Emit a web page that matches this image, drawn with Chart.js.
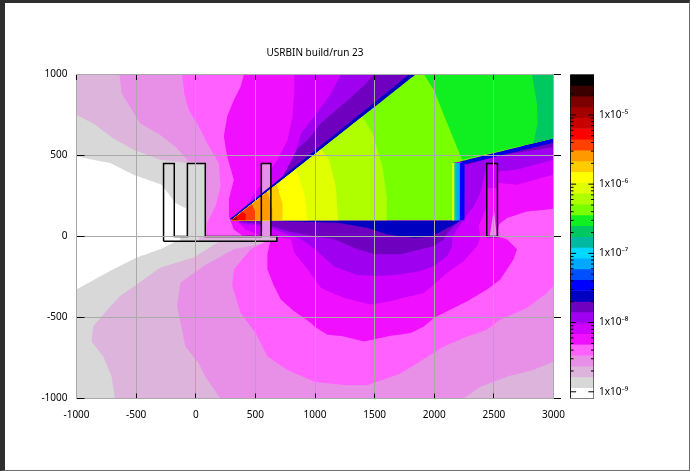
<!DOCTYPE html>
<html>
<head>
<meta charset="utf-8">
<title>USRBIN build/run 23</title>
<script src="https://cdn.jsdelivr.net/npm/chart.js@4"></script>
<style>
  html, body { margin: 0; padding: 0; background: #fff; }
  #wrap { position: relative; width: 690px; height: 471px; overflow: hidden; }
  #wrap::after { content: ''; position: absolute; inset: 0; box-sizing: border-box; pointer-events: none;
    border-style: solid; border-width: 3px 1.5px 1.5px 5px; border-color: #2e2e2e #6e6e6e #6e6e6e #2e2e2e; }
  canvas { position: absolute; left: 0; top: 0; }
</style>
</head>
<body>
<div id="wrap">
  <canvas id="myGraph" width="690" height="471"></canvas>
  <canvas id="myBar" width="690" height="471"></canvas>
</div>
<script>
// axis ticks
const xTicks = [-1000, -500, 0, 500, 1000, 1500, 2000, 2500, 3000];
const yTicks = [-1000, -500, 0, 500, 1000];
const barTicks = [1e-9, 1e-8, 1e-7, 1e-6, 1e-5];
const barTickLabels = ['1x10⁻⁹', '1x10⁻⁸', '1x10⁻⁷', '1x10⁻⁶', '1x10⁻⁵'];

// colour levels, top of the bar to the bottom
const levelEdges = [3.84e-5, 2.68e-5, 1.87e-5, 1.31e-5, 9.13e-6, 6.37e-6, 4.45e-6, 3.10e-6, 2.17e-6, 1.51e-6,
  1.06e-6, 7.38e-7, 5.15e-7, 3.60e-7, 2.51e-7, 1.75e-7, 1.22e-7, 8.55e-8, 5.97e-8, 4.17e-8,
  2.91e-8, 2.03e-8, 1.42e-8, 9.90e-9, 6.91e-9, 4.83e-9, 3.37e-9, 2.35e-9, 1.64e-9, 1.15e-9, 8.00e-10];
const levelColors = ['#000000', '#3a0000', '#7d0000', '#a50000', '#c80000', '#ff0000', '#ff4000', '#ff9900', '#ffcc00', '#ffff00',
  '#e0ff00', '#b0ff00', '#78ff00', '#10f020', '#00c860', '#00b8a0', '#00d8ff', '#00a8ff', '#0050ff', '#0000ff',
  '#0000c0', '#7000c0', '#a000f0', '#d000ff', '#f010ff', '#ff60ff', '#e890e8', '#dcb4dc', '#d8d8d8', '#ffffff'];

// contour regions, x/y in plot units
const plotBox = [[-1000,1000],[3000,1000],[3000,-1000],[-1000,-1000]];
const whiteZone = [[-1000,494],[-719,453],[-522,381],[-284,319],[-171,207],[-79,174],[-79,2],[-298,-79],[-494,-130],[-719,-213],[-1000,-327]];
const pale = [[-1000,1000],[3000,1000],[3000,-1000],[-677,-1000],[-705,-865],[-775,-741],[-874,-648],[-860,-555],[-775,-482],[-635,-368],[-494,-296],[-298,-193],[-17,-130],[208,-27],[80,-5],[80,450],[-73,453],[-298,473],[-522,535],[-691,606],[-860,699],[-1000,750]];
const pink1 = [[-640,1000],[3000,1000],[3000,-772],[2833,-824],[2610,-865],[2387,-927],[2248,-1000],[208,-1000],[81,-865],[25,-782],[-87,-679],[-115,-575],[-157,-430],[-129,-286],[67,-182],[320,-79],[685,-27],[80,-27],[80,453],[-59,463],[-171,555],[-298,627],[-466,699],[-551,801],[-621,883]];
const pink2 = [[-115,1000],[3000,1000],[3000,-306],[2945,-348],[2777,-441],[2555,-513],[2443,-575],[2276,-617],[2081,-679],[1858,-782],[1719,-845],[1440,-917],[1245,-917],[994,-896],[770,-824],[601,-741],[503,-596],[376,-472],[306,-306],[320,-203],[461,-79],[601,-27],[84,-27],[84,6],[96,84],[166,186],[208,309],[194,453],[96,576],[11,699],[-59,781],[-96,883]];
const magenta = [[404,1000],[3000,1000],[3000,172],[2777,155],[2610,114],[2541,73],[2527,0],[2610,-17],[2694,-79],[2666,-141],[2555,-265],[2443,-327],[2276,-400],[2137,-451],[1997,-503],[1914,-555],[1802,-596],[1607,-617],[1412,-648],[1245,-617],[1106,-606],[994,-555],[966,-534],[826,-462],[713,-389],[657,-306],[601,-203],[601,-110],[629,-17],[390,6],[320,43],[278,125],[278,227],[320,350],[264,494],[236,617],[264,740],[320,842],[376,924]];
const violet1 = [[826,1000],[3000,1000],[3000,381],[2889,360],[2694,319],[2527,330],[2443,186],[2373,63],[2387,-6],[2360,-58],[2248,-151],[2109,-224],[1997,-296],[1914,-348],[1802,-368],[1635,-400],[1468,-420],[1245,-379],[1106,-337],[1051,-317],[939,-203],[826,-99],[798,-17],[545,6],[419,43],[348,94],[362,125],[461,227],[573,350],[685,473],[770,596],[812,740],[826,883]];
const violet2 = [[1217,1000],[3000,1000],[3000,473],[2694,412],[2527,401],[2429,401],[2387,268],[2332,186],[2248,104],[2151,0],[2151,-58],[2109,-120],[2000,-182],[1886,-213],[1719,-234],[1504,-244],[1357,-238],[1162,-186],[1000,-79],[883,-17],[600,60],[362,84],[390,125],[517,207],[657,309],[800,432],[883,637],[994,740],[1134,883]];
const purple = [[1496,1000],[1844,1000],[300,100],[600,73],[770,32],[994,2],[1162,-17],[1357,-79],[1504,-110],[1719,-110],[1886,-79],[2000,-58],[2081,-17],[2109,22],[2192,84],[300,100],[404,104],[517,176],[657,268],[855,545],[939,596],[1050,699],[1245,822],[1412,934]];
const purpleRight = [[2220,463],[3000,606],[3000,551],[2527,498],[2276,442]];
const blueEdge = [[290,108],[1790,1000],[1844,1000],[300,100]];
const blueUnder = [[600,96],[1203,84],[1441,53],[1610,12],[1830,-9],[1984,2],[2109,53],[2192,84],[2230,100]];
const blueRight = [[2220,463],[3000,606],[3000,578],[2254,445]];
const wallBlue = [[2150,100],[2254,100],[2254,453],[2150,453]];
const wallCyan = [[2150,100],[2215,100],[2215,453],[2150,453]];
const wallTeal = [[2150,100],[2187,100],[2187,453],[2150,453]];
const wallYellow = [[2150,100],[2167,100],[2167,453],[2150,453]];
const coneMain = [[300,100],[1844,1000],[3000,1000],[3000,606],[2220,463],[2151,453],[2151,100]];
const coneGreen = [[1914,1000],[3000,1000],[3000,606],[2234,473],[2109,699],[1997,904]];
const coneTeal = [[2819,1000],[3000,1000],[3000,606],[2833,576],[2867,699],[2861,822]];
const coneLime = [[300,100],[1398,740],[1482,637],[1566,432],[1602,248],[1602,100]];
const coneChart = [[300,100],[1050,537],[1120,473],[1175,309],[1195,100]];
const coneYellow = [[300,100],[840,415],[910,268],[938,100]];
const coneGold = [[300,100],[680,322],[728,200],[728,100]];
const coneOrange = [[300,100],[600,275],[643,170],[643,100]];
const coneFire = [[300,100],[470,199],[503,150],[503,100]];
const coneRed = [[300,100],[390,152],[419,140],[419,100]];
const coneDark = [[300,100],[340,123],[350,100]];

// inside of the blocks
const slabWhite = [[-270,-30],[-130,-30],[-130,0],[-270,0]];
const slabGrey = [[-130,-30],[30,-30],[30,0],[-130,0]];
const slabPale = [[30,-30],[680,-30],[680,0],[30,0]];
const block3 = [[550,0],[630,0],[630,450],[550,450]];
const block4 = [[2440,0],[2530,0],[2530,450],[2440,450]];
const block4Low = [[2440,0],[2530,0],[2530,300],[2440,300]];
const block4Streak = [[2465,0],[2525,0],[2500,170]];

// geometry outline
const outline = [[-270,-30],[-270,450],[-180,450],[-180,0],[-70,0],[-70,450],[80,450],[80,0],[550,0],[550,450],[630,450],[630,0],[680,0],[680,-30],[-270,-30]];
const outline2 = [[2440,0],[2440,450],[2530,450],[2530,0],[2440,0]];

const toPts = a => a.map(p => ({x: p[0], y: p[1]}));
const shape = (pts, color) => ({
  data: toPts(pts), showLine: true, fill: 'shape', backgroundColor: color,
  borderWidth: 0, pointRadius: 0, tension: 0.001
});
const edge = pts => ({
  data: toPts(pts), showLine: true, fill: false, borderColor: '#000',
  borderWidth: 1.5, pointRadius: 0
});

// lowest first, later ones paint over
const layers = [
  shape(plotBox, '#d8d8d8'),
  shape(whiteZone, '#ffffff'),
  shape(pale, '#dcb4dc'),
  shape(pink1, '#e890e8'),
  shape(pink2, '#ff60ff'),
  shape(magenta, '#f010ff'),
  shape(violet1, '#d000ff'),
  shape(violet2, '#a000f0'),
  shape(purple, '#7000c0'),
  shape(purpleRight, '#7000c0'),
  shape(blueUnder, '#0000c0'),
  shape(slabWhite, '#ffffff'),
  shape(slabGrey, '#d8d8d8'),
  shape(slabPale, '#dcb4dc'),
  shape(block3, '#e890e8'),
  shape(block4, '#d000ff'),
  shape(block4Low, '#f010ff'),
  shape(block4Streak, '#e890e8'),
  shape(blueEdge, '#0000c0'),
  shape(blueRight, '#0000e0'),
  shape(wallBlue, '#0000ff'),
  shape(wallCyan, '#00a8ff'),
  shape(wallTeal, '#00d0a0'),
  shape(wallYellow, '#e0ff00'),
  shape(coneMain, '#78ff00'),
  shape(wallYellow, '#e0ff00'),
  shape(coneGreen, '#10f020'),
  shape(coneTeal, '#00c860'),
  shape(coneLime, '#b0ff00'),
  shape(coneChart, '#e0ff00'),
  shape(coneYellow, '#ffff00'),
  shape(coneGold, '#ffcc00'),
  shape(coneOrange, '#ff9900'),
  shape(coneFire, '#ff4000'),
  shape(coneRed, '#ff0000'),
  shape(coneDark, '#a50000'),
  edge(outline),
  edge(outline2)
];

const font = {family: '"Noto Sans"', size: 10};
const plain = v => String(v);
Chart.defaults.color = '#000';
Chart.defaults.animation = false;

const ctx = document.getElementById('myGraph');
const myChart = new Chart(ctx, {
  type: 'scatter',
  data: {datasets: layers.reverse()},
  options: {
    responsive: false,
    layout: {padding: {right: 136.5}},
    plugins: {
      legend: {display: false},
      tooltip: {enabled: false},
      title: {display: true, fullSize: false, text: 'USRBIN build/run 23', font: {...font, weight: 'normal'}, padding: {top: 47, bottom: 15.5}}
    },
    scales: {
      x: {
        min: -1000, max: 3000,
        afterBuildTicks: s => { s.ticks = xTicks.map(v => ({value: v})); },
        afterFit: s => { s.height = 72.5; },
        border: {color: '#aaa', z: 1},
        grid: {z: 1, color: '#aaa', tickColor: '#000', tickLength: -5},
        ticks: {font, maxRotation: 0, padding: 16, callback: plain}
      },
      y: {
        min: -1000, max: 1000,
        afterBuildTicks: s => { s.ticks = yTicks.map(v => ({value: v})); },
        afterFit: s => { s.width = 76.5; },
        border: {color: '#aaa', z: 1},
        grid: {z: 1, color: '#aaa', tickColor: '#000', tickLength: -8},
        ticks: {font, padding: 17, callback: plain}
      },
      // mirrored tick marks on the top and right sides
      xTop: {
        position: {y: 1000}, min: -1000, max: 3000,
        afterBuildTicks: s => { s.ticks = xTicks.map(v => ({value: v})); },
        border: {color: '#aaa', z: 1},
        grid: {z: 1, drawOnChartArea: false, tickColor: '#000', tickLength: 5},
        ticks: {display: false}
      },
      yRight: {
        position: {x: 3000}, min: -1000, max: 1000,
        afterBuildTicks: s => { s.ticks = yTicks.map(v => ({value: v})); },
        border: {color: '#aaa', z: 1},
        grid: {z: 1, drawOnChartArea: false, tickColor: '#000', tickLength: -8},
        ticks: {display: false}
      }
    }
  }
});

// colour bar
const barSets = levelColors.map((c, i) => ({
  data: [[levelEdges[i + 1], levelEdges[i]]],
  backgroundColor: c, borderWidth: 0, grouped: false,
  barPercentage: 1, categoryPercentage: 1
}));
const barFrame = [[0, 8.00e-10], [1, 8.00e-10], [1, 3.84e-5], [0, 3.84e-5], [0, 8.00e-10]];
// log tick marks on both sides of the bar
const minorMult = [2, 3, 4, 5, 6, 7, 8, 9];
const barMarks = [];
barTicks.forEach(d => {
  [1].concat(minorMult).forEach(m => {
    const v = d * m;
    if (v > 3.84e-5) return;
    const w = m === 1 ? 0.24 : 0.13;
    barMarks.push({x: 0, y: v}, {x: w, y: v}, {x: null, y: null}, {x: 1 - w, y: v}, {x: 1, y: v}, {x: null, y: null});
  });
});
const ctxBar = document.getElementById('myBar');
const barChart = new Chart(ctxBar, {
  data: {
    labels: ['level'],
    datasets: [
      {type: 'scatter', xAxisID: 'xMark', data: barMarks, showLine: true, borderColor: '#000', borderWidth: 1, pointRadius: 0, order: 0},
      {type: 'scatter', xAxisID: 'xMark', data: toPts(barFrame), showLine: true, borderColor: '#000', borderWidth: 1, pointRadius: 0, order: 0}
    ].concat(barSets.map(d => ({...d, type: 'bar', xAxisID: 'x', order: 1})))
  },
  options: {
    responsive: false,
    layout: {padding: {left: 570.5, top: 74.5, bottom: 72.5, right: 0}},
    plugins: {legend: {display: false}, tooltip: {enabled: false}, title: {display: false}},
    scales: {
      x: {display: false, offset: true, grid: {display: false}},
      xMark: {display: false, type: 'linear', min: 0, max: 1},
      y: {
        type: 'logarithmic', position: 'right', min: 8.00e-10, max: 3.84e-5,
        afterBuildTicks: s => { s.ticks = barTicks.map(v => ({value: v})); },
        afterFit: s => { s.width = 96; },
        afterTickToLabelConversion: s => { s.ticks.forEach((t, i) => { t.label = barTickLabels[i]; }); },
        grid: {display: false, drawTicks: false},
        border: {display: false},
        ticks: {font, padding: 5, autoSkip: false}
      }
    }
  }
});
</script>
</body>
</html>
